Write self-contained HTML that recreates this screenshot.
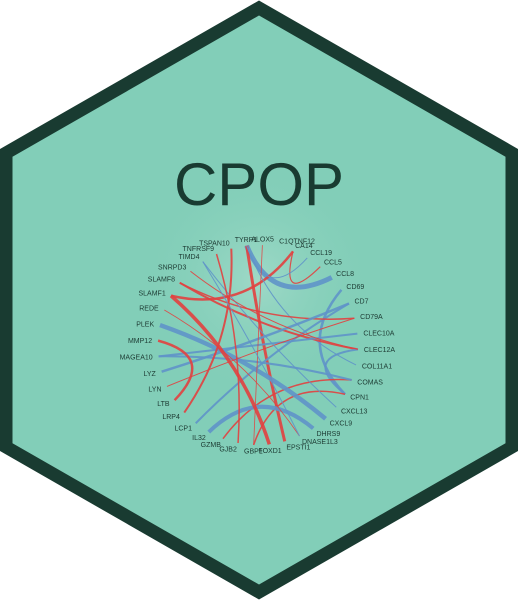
<!DOCTYPE html>
<html><head><meta charset="utf-8"><style>
html,body{margin:0;padding:0;background:#fff;}
svg{display:block;}
text{font-family:"Liberation Sans",sans-serif;}
</style></head><body>
<svg id="chart" width="518" height="600" viewBox="0 0 518 600">
<defs>
<radialGradient id="glow" cx="258" cy="280" r="120" gradientUnits="userSpaceOnUse">
<stop offset="0" stop-color="#a6dccb" stop-opacity="0.8"/>
<stop offset="1" stop-color="#82ceb8" stop-opacity="0"/>
</radialGradient>
</defs>
<polygon points="259,8 512,153 512,447 259,592 6,447 6,153" fill="#82ceb8" stroke="#193b31" stroke-width="13" stroke-linejoin="miter"/>
<circle cx="258" cy="290" r="130" fill="url(#glow)"/>
<text x="259" y="205" text-anchor="middle" font-size="60" fill="#193b31">CPOP</text>
<g id="edges"></g>
<g id="nodes"></g>
</svg>
<script>
const genes = ["ALOX5","C1QTNF12","CA14","CCL19","CCL5","CCL8","CD69","CD7","CD79A","CLEC10A","CLEC12A","COL11A1","COMAS","CPN1","CXCL13","CXCL9","DHRS9","DNASE1L3","EPSTI1","FOXD1","GBP1","GJB2","GZMB","IL32","LCP1","LRP4","LTB","LYN","LYZ","MAGEA10","MMP12","PLEK","REDE","SLAMF1","SLAMF8","SNRPD3","TIMD4","TNFRSF9","TSPAN10","TYRP1"];
const edgeFrom = ["TYRP1","L1","CA14","CA14","TYRP1","TYRP1","CD69","CD7","CD79A","CLEC12A","CLEC10A","CLEC12A","CPN1","COMAS","PLEK","IL32","LYZ","MAGEA10","MMP12","LYN","REDE","TIMD4","SNRPD3","TSPAN10","TNFRSF9","SLAMF1","ALOX5","DNASE1L3"];
const edgeTo = ["CCL8","EPSTI1","SLAMF1","CCL5","CCL19","COL11A1","CPN1","LCP1","SLAMF8","SLAMF8","MAGEA10","CPN1","GBP1","GZMB","CXCL9","DHRS9","CD7","COMAS","LTB","CD79A","DNASE1L3","CXCL13","CLEC12A","LRP4","GJB2","FOXD1","GBP1","TIMD4"];
const edgeSign = [1,-1,-1,-1,1,1,1,1,-1,-1,1,1,-1,-1,1,1,1,1,-1,-1,-1,1,-1,-1,-1,-1,-1,1];
const edgeWeight = [5,3,2.5,1.2,1,1,2.5,2,1.5,2,2,2,1.5,1.5,4.5,4,2.5,2,2.5,1,0.8,1,1,2,1.5,3.5,0.8,1];
const cx=258, cy=345, R=100, RL=106;
const NS="http://www.w3.org/2000/svg";
function ang(i){return (-87.5 + i*9)*Math.PI/180;}
function idx(n){let i=genes.indexOf(n); if(i<0){i=genes.findIndex(g=>g.startsWith(n.slice(0,2)));} return i;}
function pt(i,r){const a=ang(i);return [cx+r*Math.cos(a), cy+r*Math.sin(a)];}
const eg=document.getElementById('edges');
edgeFrom.forEach((f,k)=>{
  const i=idx(f), j=idx(edgeTo[k]);
  const p=pt(i,R), q=pt(j,R);
  const mx=(p[0]+q[0])/2, my=(p[1]+q[1])/2;
  const c=[cx+(mx-cx)*0.45, cy+(my-cy)*0.45];
  const path=document.createElementNS(NS,'path');
  path.setAttribute('d',`M${p[0]},${p[1]} Q${c[0]},${c[1]} ${q[0]},${q[1]}`);
  path.setAttribute('fill','none');
  path.setAttribute('stroke',edgeSign[k]>0?'#5f93c9':'#e2403f');
  path.setAttribute('stroke-width',edgeWeight[k]);
  path.setAttribute('stroke-opacity','0.9');
  
  
  eg.appendChild(path);
});
const ng=document.getElementById('nodes');
genes.forEach((g,i)=>{
  const [x,y]=pt(i,RL);
  const t=document.createElementNS(NS,'text');
  const c=Math.cos(ang(i));
  t.setAttribute('x',x); t.setAttribute('y',y+2.5);
  t.setAttribute('text-anchor', Math.abs(c)<0.15?'middle':(c>0?'start':'end'));
  t.setAttribute('font-size','7');
  t.setAttribute('fill','#1d3b33');
  t.textContent=g;
  
  
  ng.appendChild(t);
});
</script>
</body></html>
